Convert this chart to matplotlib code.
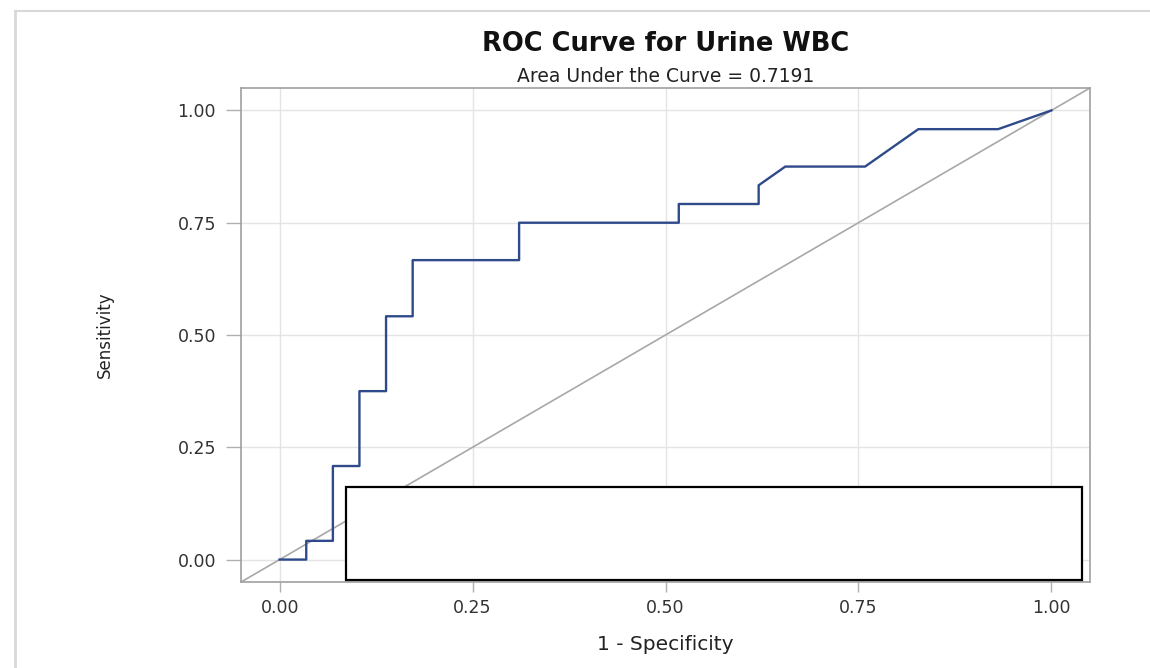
import matplotlib.pyplot as plt
from matplotlib.patches import Rectangle
from matplotlib.lines import Line2D

# ROC curve points (1 - specificity, sensitivity)
fpr = [0.0, 0.0345, 0.0345, 0.069, 0.069, 0.1034, 0.1034, 0.1379, 0.1379,
       0.1724, 0.1724, 0.3103, 0.3103, 0.5172, 0.5172, 0.6207, 0.6207,
       0.6552, 0.7586, 0.8276, 0.931, 1.0]
tpr = [0.0, 0.0, 0.0417, 0.0417, 0.2083, 0.2083, 0.375, 0.375, 0.5417,
       0.5417, 0.6667, 0.6667, 0.75, 0.75, 0.7917, 0.7917, 0.8333,
       0.875, 0.875, 0.9583, 0.9583, 1.0]
ticks = [0.0, 0.25, 0.5, 0.75, 1.0]
tick_labels = ['0.00', '0.25', '0.50', '0.75', '1.00']
auc = 0.7191

fig = plt.figure(figsize=(11.5, 6.68), dpi=100)
ax = fig.add_axes([0.2096, 0.1287, 0.7382, 0.7396])

# chance line across the whole frame
ax.plot([-0.05, 1.05], [-0.05, 1.05], color='#a8a8a8', lw=1.2, zorder=2)
ax.plot(fpr, tpr, color='#2e4a8a', lw=1.7, zorder=3)

ax.set_xlim(-0.05, 1.05)
ax.set_ylim(-0.05, 1.05)
ax.set_xticks(ticks)
ax.set_xticklabels(tick_labels)
ax.set_yticks(ticks)
ax.set_yticklabels(tick_labels)
ax.grid(True, color='#e4e4e4', lw=1.0)
ax.set_axisbelow(True)
for s in ax.spines.values():
    s.set_color('#a0a0a0')
    s.set_linewidth(1.2)
ax.tick_params(direction='out', width=1, color='#b0b0b0',
               labelsize=12.5, labelcolor='#333333')
ax.tick_params(axis='x', length=7, pad=5)
ax.tick_params(axis='y', length=11, pad=7)

ax.set_xlabel('1 - Specificity', fontsize=14.5, color='#222222', labelpad=13)
ax.set_ylabel('Sensitivity', fontsize=12, color='#222222', labelpad=46)

# empty inset box (white, covers the lines)
ax.add_patch(Rectangle((0.124, 0.004), 0.867, 0.189, transform=ax.transAxes,
                       facecolor='white', edgecolor='black', lw=1.6, zorder=5))

fig.text(0.5787, 0.9237, 'ROC Curve for Urine WBC', ha='center', va='baseline',
         fontsize=18.5, fontweight='bold', color='#111111')
fig.text(0.5787, 0.8772, 'Area Under the Curve = %.4f' % auc, ha='center',
         va='baseline', fontsize=13.5, color='#222222')

# outer screenshot frame
fig.add_artist(Line2D([0.013, 0.013], [0.0, 0.983], transform=fig.transFigure,
                      color='#d8d8d8', lw=2))
fig.add_artist(Line2D([0.013, 1.0], [0.983, 0.983], transform=fig.transFigure,
                      color='#d8d8d8', lw=1.5))

fig.savefig('out.png', dpi=100)
